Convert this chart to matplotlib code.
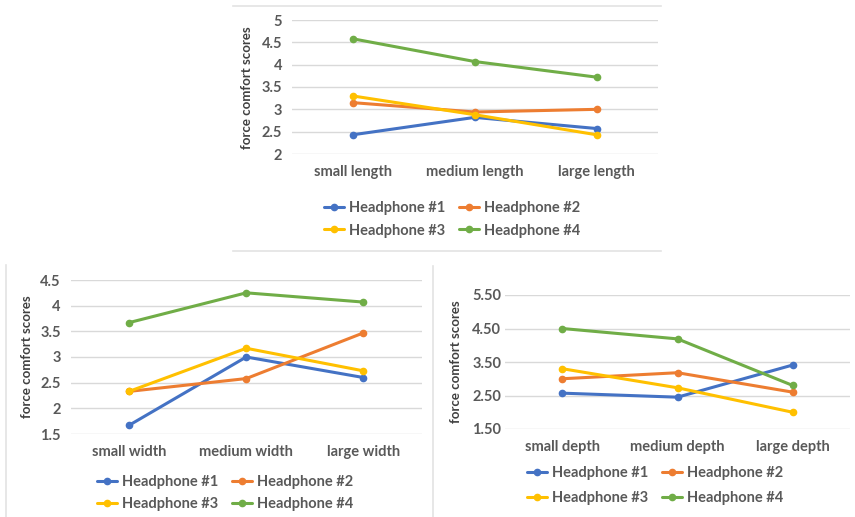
import matplotlib
matplotlib.use("Agg")
import matplotlib.pyplot as plt
from matplotlib.lines import Line2D

# ---- data -------------------------------------------------------------
series_names = ["Headphone #1", "Headphone #2", "Headphone #3", "Headphone #4"]
series_colors = ["#4472C4", "#ED7D31", "#FFC000", "#70AD47"]

length_categories = ["small length", "medium length", "large length"]
length_scores = [
    [2.43, 2.82, 2.57],   # Headphone #1
    [3.15, 2.94, 3.00],   # Headphone #2
    [3.30, 2.88, 2.43],   # Headphone #3
    [4.58, 4.07, 3.72],   # Headphone #4
]
length_ticks = [2, 2.5, 3, 3.5, 4, 4.5, 5]

width_categories = ["small width", "medium width", "large width"]
width_scores = [
    [1.67, 3.00, 2.60],
    [2.33, 2.58, 3.47],
    [2.33, 3.17, 2.73],
    [3.67, 4.25, 4.07],
]
width_ticks = [1.5, 2, 2.5, 3, 3.5, 4, 4.5]

depth_categories = ["small depth", "medium depth", "large depth"]
depth_scores = [
    [2.57, 2.45, 3.41],
    [3.00, 3.18, 2.60],
    [3.30, 2.73, 2.00],
    [4.50, 4.19, 2.80],
]
depth_ticks = [1.5, 2.5, 3.5, 4.5, 5.5]

# ---- figure -----------------------------------------------------------
W, H = 855, 517
fig = plt.figure(figsize=(W / 100, H / 100), dpi=100)
fig.patch.set_facecolor("white")

FONT = "Lato"
TXT = "#595959"
GRID = "#D9D9D9"


def px_axes(x0, x1, y_top, y_bot):
    return fig.add_axes([x0 / W, 1 - y_bot / H, (x1 - x0) / W, (y_bot - y_top) / H])


def draw_panel(ax, cats, scores, ticks, fmt, ylab_xy, leg_xy, leg_spacing, ypad):
    xs = list(range(len(cats)))
    handles = []
    for name, col, vals in zip(series_names, series_colors, scores):
        h, = ax.plot(xs, vals, color=col, lw=2.2, marker="o", ms=4.5,
                     solid_capstyle="round", label=name, zorder=3)
        handles.append(h)
    ax.set_xlim(-0.5, len(cats) - 0.5)
    ax.set_ylim(ticks[0], ticks[-1])
    ax.set_yticks(ticks)
    ax.set_yticklabels([fmt.format(t) for t in ticks])
    ax.set_xticks(xs)
    ax.set_xticklabels(cats)
    ax.grid(axis="y", color=GRID, lw=1)
    ax.set_axisbelow(True)
    for s in ax.spines.values():
        s.set_visible(False)
    ax.tick_params(axis="both", length=0, colors=TXT, labelsize=10.5)
    ax.tick_params(axis="y", pad=ypad)
    ax.tick_params(axis="x", pad=8)
    for lbl in ax.get_xticklabels() + ax.get_yticklabels():
        lbl.set_fontfamily(FONT)
        lbl.set_fontweight("bold")
    fig.text(ylab_xy[0] / W, 1 - ylab_xy[1] / H, "force comfort scores",
             rotation=90, ha="center", va="center", fontsize=9.5,
             fontfamily=FONT, fontweight="bold", color="#404040")
    order = [0, 2, 1, 3]
    leg = ax.legend([handles[i] for i in order], [series_names[i] for i in order],
                    ncol=2, loc="center", frameon=False,
                    bbox_to_anchor=(leg_xy[0] / W, 1 - leg_xy[1] / H),
                    bbox_transform=fig.transFigure,
                    handlelength=1.4, handletextpad=0.35, columnspacing=0.9,
                    labelspacing=leg_spacing,
                    prop={"family": FONT, "weight": "bold", "size": 10.5})
    for t in leg.get_texts():
        t.set_color(TXT)


ax_top = px_axes(291.7, 657.7, 20, 154)
draw_panel(ax_top, length_categories, length_scores, length_ticks, "{:g}",
           (247, 87.5), (452, 219.5), 0.55, 7)

ax_bl = px_axes(70.5, 422, 280, 434)
draw_panel(ax_bl, width_categories, width_scores, width_ticks, "{:g}",
           (27, 357), (225, 493), 0.5, 7)

ax_br = px_axes(504.7, 850.3, 295, 429)
draw_panel(ax_br, depth_categories, depth_scores, depth_ticks, "{:.2f}",
           (456, 362), (655, 485.5), 0.8, 2.5)

# panel frames
BORDER = "#E3E3E3"
for (xa, ya) in [((233, 661), (6, 6)), ((233, 661), (251, 251)),
                 ((6, 6), (265, 517)), ((433, 433), (266, 517))]:
    fig.add_artist(Line2D([xa[0] / W, xa[1] / W], [1 - ya[0] / H, 1 - ya[1] / H],
                          transform=fig.transFigure, color=BORDER, lw=1.2))

fig.savefig("out.png", dpi=100, facecolor="white")
